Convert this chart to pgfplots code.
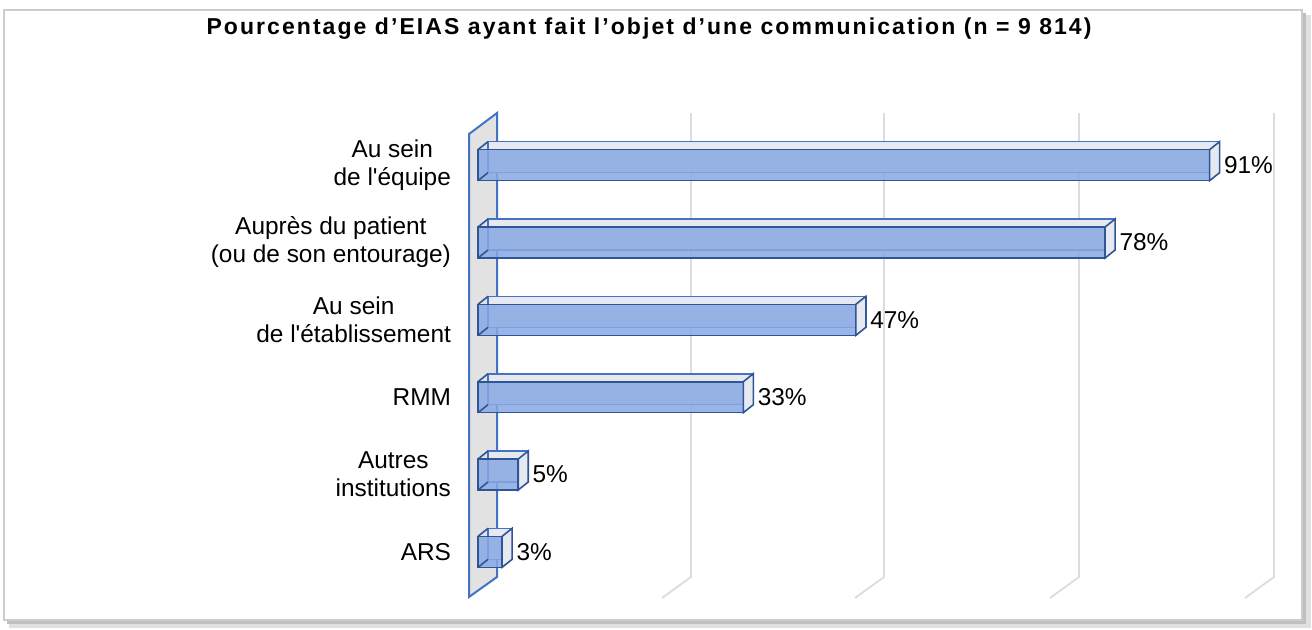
\documentclass[border=0pt]{standalone}
\usepackage{fontspec}
\setmainfont{Liberation Sans}
\usepackage{pgfplots}
\usepackage{pgfplotstable}
\pgfplotsset{compat=1.18}
\definecolor{frontc}{HTML}{88A8E2}
\definecolor{edgec}{HTML}{2F5597}
\definecolor{backc}{HTML}{E6E9F0}
\definecolor{wallc}{HTML}{E2E2E2}
\definecolor{walle}{HTML}{4472C4}
\definecolor{gridc}{HTML}{DCDCDC}

\pgfdeclareplotmark{rface}{%
  \pgfpathmoveto{\pgfpoint{0pt}{-7.75pt}}%
  \pgfpathlineto{\pgfpoint{5pt}{-3.75pt}}%
  \pgfpathlineto{\pgfpoint{5pt}{11.75pt}}%
  \pgfpathlineto{\pgfpoint{0pt}{7.75pt}}%
  \pgfpathclose
  \pgfusepathqfillstroke}
\pgfdeclareplotmark{lend}{%
  \pgfpathmoveto{\pgfpoint{0pt}{7.75pt}}%
  \pgfpathlineto{\pgfpoint{5pt}{11.75pt}}%
  \pgfpathmoveto{\pgfpoint{0pt}{-7.75pt}}%
  \pgfpathlineto{\pgfpoint{5pt}{-3.75pt}}%
  \pgfusepathqstroke}

\pgfplotstableread{
idx val
0 3
1 5
2 33
3 47
4 78
5 91
}\data

\def\P#1#2{({(#1)*0.5pt},{(629-(#2))*0.5pt})}
\newcommand{\lblfont}{\fontsize{12.2}{14}\selectfont}

\begin{document}
\begin{tikzpicture}
\useasboundingbox (0,0) rectangle (656pt,314.5pt);
% frame with shadow
\fill[black!12] \P{9}{15} rectangle \P{1311}{628};
\fill[black!25] \P{7}{13} rectangle \P{1306}{624};
\fill[white] \P{4}{10} rectangle \P{1302}{620};
\draw[black!20, line width=0.8pt] \P{4}{10} rectangle \P{1302}{620};
% title
\node[font=\bfseries\fontsize{11.5}{13}\selectfont\addfontfeatures{LetterSpace=9}] at \P{649}{29}
  {Pourcentage d’EIAS ayant fait l’objet d’une communication (n = 9 814)};
% gridlines
\foreach \g in {691,884,1079,1274}{
  \draw[gridc, line width=0.9pt] \P{\g}{113} -- \P{\g}{577} -- \P{\g-29}{598};
}
% wall
\filldraw[fill=wallc, draw=walle, line width=1pt]
  \P{469}{597} -- \P{469}{134} -- \P{497}{113} -- \P{497}{577} -- cycle;

\begin{axis}[
  at={(239pt,11.5pt)}, anchor=south west,
  scale only axis, width=402pt, height=247.5pt,
  xmin=0, xmax=100, ymin=-0.7, ymax=5.7,
  clip=false,
  axis line style={draw=none},
  major tick length=0pt,
  xtick=\empty,
  ytick={0,...,5},
  yticklabels={ARS, Autres\\institutions, RMM, Au sein\\de l\textquotesingle établissement, Auprès du patient\\(ou de son entourage), Au sein\\de l\textquotesingle équipe},
  yticklabel style={align=center, font=\lblfont, xshift=-10pt},
  /pgf/number format/assume math mode=true,
]
\addplot[xbar, bar width=0.4, bar shift=0pt, draw=walle, fill=backc,
  line width=0.8pt, xshift=5pt, yshift=4pt] table[x=val,y=idx]{\data};
\addplot[only marks, mark=rface, mark options={draw=edgec, fill=backc, line width=0.8pt}]
  table[x=val,y=idx]{\data};
\addplot[xbar, bar width=0.4, bar shift=0pt, draw=edgec, fill=frontc,
  fill opacity=0.85, line width=0.8pt,
  point meta=x,
  nodes near coords={\pgfmathprintnumber{\pgfplotspointmeta}\%},
  every node near coord/.append style={font=\lblfont,
    text opacity=1, fill opacity=1, anchor=west, xshift=3.5pt, text=black}]
  table[x=val,y=idx]{\data};
\addplot[only marks, mark=lend, mark options={draw=edgec, line width=0.8pt}]
  table[x expr=0,y=idx]{\data};
\end{axis}
\end{tikzpicture}
\end{document}
